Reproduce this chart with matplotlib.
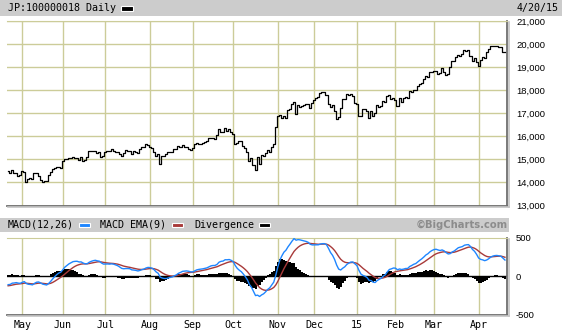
import numpy as np
import pandas as pd
import matplotlib
matplotlib.use("Agg")
import matplotlib.pyplot as plt
from matplotlib.patches import Rectangle
from matplotlib.lines import Line2D

# ---------------- data ----------------
first_day = "2014-04-21"
last_day = "2015-04-20"
# Tokyo exchange closures on weekdays in the period
holidays = ["2014-04-29", "2014-05-05", "2014-05-06", "2014-07-21", "2014-09-15",
            "2014-09-23", "2014-10-13", "2014-11-03", "2014-11-24", "2014-12-23",
            "2014-12-31", "2015-01-01", "2015-01-02", "2015-01-12", "2015-02-11"]

# daily closes, one list per month
close_apr14 = [14512, 14388, 14546, 14404, 14429, 14288, 14304]
close_may14 = [14485, 14457, 14033, 14163, 14199, 14149, 14425, 14405, 14298, 14096,
               14006, 14075, 14042, 14337, 14462, 14602, 14636, 14670, 14681, 14632]
close_jun14 = [14935, 15034, 14998, 15069, 15077, 15124, 15069, 15069, 14973, 15097,
               14933, 14975, 15115, 15361, 15349, 15369, 15376, 15266, 15308, 15095, 15162]
close_jul14 = [15326, 15369, 15348, 15437, 15379, 15314, 15302, 15216, 15164, 15296,
               15395, 15379, 15370, 15215, 15343, 15328, 15284, 15457, 15529, 15530,
               15646, 15620]
close_aug14 = [15523, 15474, 15320, 15159, 15232, 14778, 15130, 15161, 15213, 15314,
               15318, 15322, 15449, 15454, 15586, 15539, 15613, 15521, 15534, 15459, 15424]
close_sep14 = [15476, 15668, 15728, 15676, 15668, 15705, 15749, 15788, 15909, 15948,
               15911, 15888, 16067, 16321, 16205, 16167, 16374, 16229, 16310, 16173]
close_oct14 = [16082, 15661, 15708, 15783, 15790, 15595, 15478, 15300, 14936, 15073,
               14738, 14532, 15111, 14804, 15195, 15138, 15291, 15388, 15329, 15554,
               15658, 16414]
close_nov14 = [16863, 16937, 16793, 16880, 16780, 17124, 17197, 17392, 17490, 16973,
               17344, 17288, 17300, 17357, 17407, 17383, 17248, 17459]
close_dec14 = [17590, 17663, 17720, 17887, 17920, 17935, 17813, 17412, 17257, 17371,
               17099, 16755, 16819, 17210, 17621, 17635, 17854, 17808, 17818, 17729, 17451]
close_jan15 = [17408, 16883, 16885, 17167, 17198, 17087, 16796, 17108, 16864, 17014,
               17366, 17280, 17329, 17511, 17468, 17768, 17795, 17606, 17674]
close_feb15 = [17558, 17335, 17678, 17504, 17648, 17711, 17652, 17979, 17913, 18004,
               17987, 18199, 18264, 18332, 18466, 18603, 18585, 18785, 18798]
close_mar15 = [18826, 18815, 18704, 18751, 18971, 18790, 18665, 18723, 18991, 19254,
               19246, 19437, 19544, 19477, 19560, 19754, 19713, 19746, 19471, 19286,
               19411, 19207]
close_apr15 = [19035, 19312, 19435, 19398, 19641, 19790, 19937, 19908, 19906, 19909,
               19870, 19886, 19653, 19635]

# MACD state carried in from the sessions before the first plotted day
ema12_start = 14440.0
ema26_start = 14565.0
signal_start = -128.0

month_labels = ["May", "Jun", "Jul", "Aug", "Sep", "Oct", "Nov", "Dec", "15",
                "Feb", "Mar", "Apr"]
price_ticks = [13000, 14000, 15000, 16000, 17000, 18000, 19000, 20000, 21000]
macd_ticks = [-500, 0, 500]

# ---------------- prep ----------------
close = np.array(close_apr14 + close_may14 + close_jun14 + close_jul14 + close_aug14 +
                 close_sep14 + close_oct14 + close_nov14 + close_dec14 + close_jan15 +
                 close_feb15 + close_mar15 + close_apr15, dtype=float)
dates = pd.bdate_range(first_day, last_day)
dates = dates[~dates.isin(pd.to_datetime(holidays))]
n = len(close)
idx = np.arange(n)

# first session of each month -> grid position
months = dates.to_period("M")
month_idx = [i for i in range(1, n) if months[i] != months[i - 1]]


def ema(values, span, start):
    a = 2.0 / (span + 1)
    out = np.empty(len(values))
    e = start
    for i, v in enumerate(values):
        e = e + a * (v - e)
        out[i] = e
    return out


macd = ema(close, 12, ema12_start) - ema(close, 26, ema26_start)
signal = ema(macd, 9, signal_start)
diverg = macd - signal

# ---------------- figure ----------------
W, H = 562, 330
fig = plt.figure(figsize=(W / 100, H / 100), dpi=100)
fig.patch.set_facecolor("white")


def fx(x):
    return x / W


def fy(y):
    return 1 - y / H


GRID = "#CCCC99"
BORDER = "#6E6E6E"
SHADOW = "#C4C4C4"
BAND = "#CCCCCC"
MONO = "DejaVu Sans Mono"

# header bands
fig.patches.append(Rectangle((0, fy(15.5)), 1, 15.5 / H, transform=fig.transFigure,
                             facecolor=BAND, edgecolor="none", zorder=0))
fig.patches.append(Rectangle((0, fy(232)), fx(509), 14.5 / H, transform=fig.transFigure,
                             facecolor=BAND, edgecolor="none", zorder=0))

L, R = 7, 507
x0, x1 = -0.55, 246.0

# ---- price panel ----
top, bot = 21, 205.5
ax = fig.add_axes([fx(L), fy(bot), fx(R - L), (bot - top) / H])
ax.plot(idx, close, drawstyle="steps-mid", color="black", lw=0.9, zorder=3)
ax.set_xlim(x0, x1)
ax.set_ylim(13000, 21000)
ax.set_yticks(price_ticks)
ax.set_yticklabels([f"{t:,}" for t in price_ticks])
ax.yaxis.tick_right()
ax.set_xticks(month_idx)
ax.set_xticklabels([])
ax.tick_params(length=0, pad=6.5, labelsize=6.8)
for lab in ax.get_yticklabels():
    lab.set_family("Liberation Sans")
ax.grid(True, color=GRID, lw=1.0)
ax.set_axisbelow(True)
ax.spines["left"].set_visible(False)
ax.spines["top"].set_color(GRID)
for s in ("right", "bottom"):
    ax.spines[s].set_color(BORDER)
    ax.spines[s].set_linewidth(1.3)

# ---- MACD panel ----
mtop, mbot = 237.7, 314.7
ax2 = fig.add_axes([fx(L), fy(mbot), fx(R - L), (mbot - mtop) / H])
ax2.bar(idx, diverg, width=1.0, color="black", linewidth=0, zorder=2)
ax2.axhline(0, color="black", lw=1.0, zorder=2)
ax2.plot(idx, signal, color="#A83A3A", lw=1.0, zorder=3)
ax2.plot(idx, macd, color="#1E86FF", lw=1.0, zorder=4)
ax2.set_xlim(x0, x1)
ax2.set_ylim(-500, 500)
ax2.set_yticks(macd_ticks)
ax2.set_yticklabels([str(t) for t in macd_ticks])
ax2.yaxis.tick_right()
ax2.set_xticks(month_idx)
ax2.set_xticklabels(month_labels, family=MONO, fontsize=7.2)
ax2.tick_params(axis="x", length=0, pad=3.5)
ax2.tick_params(axis="y", length=0, pad=6.5, labelsize=6.8)
for lab in ax2.get_yticklabels():
    lab.set_family("Liberation Sans")
ax2.grid(True, axis="x", color=GRID, lw=1.0)
ax2.set_axisbelow(True)
ax2.spines["left"].set_visible(False)
ax2.spines["top"].set_color(GRID)
for s in ("right", "bottom"):
    ax2.spines[s].set_color(BORDER)
    ax2.spines[s].set_linewidth(1.3)

# drop shadows along the right and bottom frame edges
for (ya, yb) in ((top + 1, bot + 1.5), (mtop + 1, mbot + 1.5)):
    fig.add_artist(Line2D([fx(R + 1.5), fx(R + 1.5)], [fy(ya), fy(yb)],
                          color=SHADOW, lw=1.2, transform=fig.transFigure))
    fig.add_artist(Line2D([fx(L + 1), fx(R + 1.5)], [fy(yb), fy(yb)],
                          color=SHADOW, lw=1.2, transform=fig.transFigure))

# ---- header texts ----
fig.text(fx(8), fy(8), "JP:100000018 Daily", family=MONO, fontsize=7.2,
         va="center", ha="left")
fig.patches.append(Rectangle((fx(121), fy(10.5)), fx(12), 5 / H,
                             transform=fig.transFigure, facecolor="black",
                             edgecolor="white", lw=0.8))
fig.text(fx(559), fy(8), "4/20/15", family=MONO, fontsize=7.2, va="center", ha="right")

hy = 224.8
fig.text(fx(8), fy(hy), "MACD(12,26)", family=MONO, fontsize=7.2, va="center")
fig.patches.append(Rectangle((fx(79), fy(hy + 2.2)), fx(11), 4.4 / H,
                             transform=fig.transFigure, facecolor="#1E86FF",
                             edgecolor="white", lw=0.8))
fig.text(fx(100), fy(hy), "MACD EMA(9)", family=MONO, fontsize=7.2, va="center")
fig.patches.append(Rectangle((fx(172), fy(hy + 2.2)), fx(11), 4.4 / H,
                             transform=fig.transFigure, facecolor="#A83A3A",
                             edgecolor="white", lw=0.8))
fig.text(fx(194), fy(hy), "Divergence", family=MONO, fontsize=7.2, va="center")
fig.patches.append(Rectangle((fx(259), fy(hy + 2.2)), fx(11), 4.4 / H,
                             transform=fig.transFigure, facecolor="black",
                             edgecolor="white", lw=0.8))
fig.text(fx(508), fy(hy), "\u00a9BigCharts.com", family="DejaVu Sans", fontsize=7.2,
         weight="bold", color="#8C8C8C", va="center", ha="right")

fig.savefig("out.png", dpi=100)
